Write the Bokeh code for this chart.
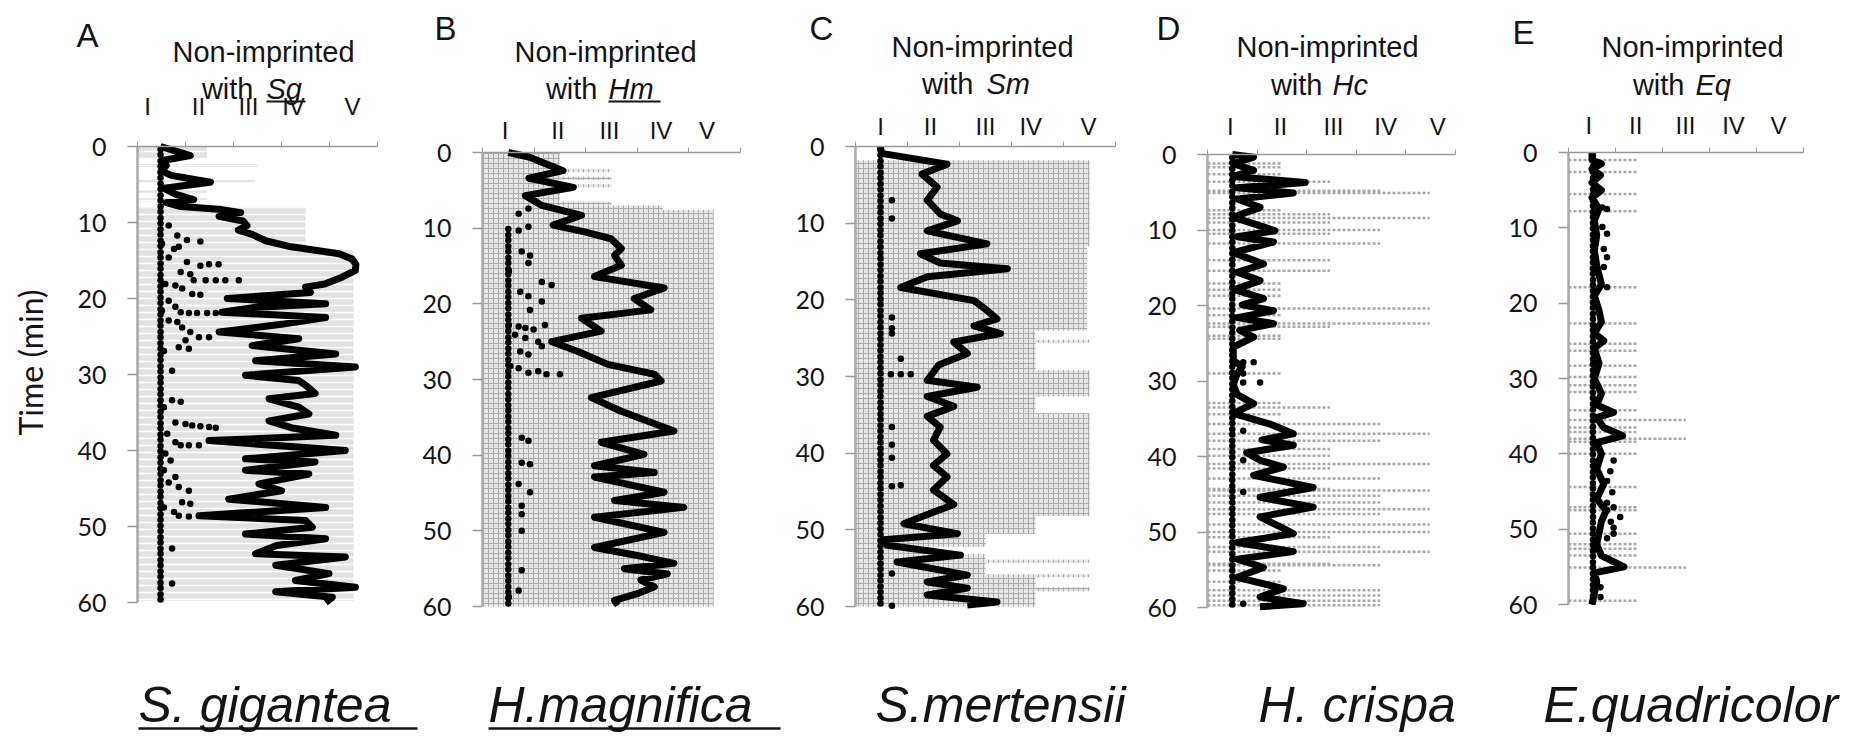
import math
from bokeh.plotting import figure
from bokeh.layouts import row
from bokeh.models import Range1d, FixedTicker
from bokeh.core.properties import value
from bokeh.embed import file_html
from bokeh.resources import INLINE

# ---------------- data ----------------
TIME_TICKS = [0, 10, 20, 30, 40, 50, 60]
LEVEL_TICKS = [0, 1, 2, 3, 4, 5]
ROMAN = ["I", "II", "III", "IV", "V"]
LETTERS = ["A", "B", "C", "D", "E"]
ABBR = ["Sg", "Hm", "Sm", "Hc", "Eq"]
SPECIES = ["S. gigantea", "H.magnifica", "S.mertensii", "H. crispa", "E.quadricolor"]
UNDERLINED = [True, True, False, False, False]

# thick line: behaviour level (x) against time in minutes (y)
A_T = [0, 0.6, 1.2, 1.8, 2.5, 3.2, 3.8, 4.7, 5.5, 6.3, 7.0, 7.4, 7.9, 8.3, 8.7, 9.2, 9.8, 10.4, 11.0, 11.6,
       12.4, 13.2, 14.1, 14.8, 15.5, 16.3, 17.2, 18.1, 18.5, 19.2, 20.0, 20.7, 21.2, 21.8, 22.5, 23.4, 24.4,
       25.3, 26.2, 27.3, 28.2, 29.0, 30.1, 30.8, 31.4, 32.5, 33.2, 34.3, 35.2, 36.1, 37.0, 38.0, 38.7, 40.0,
       41.1, 41.5, 42.6, 43.1, 44.4, 45.3, 46.4, 47.5, 48.6, 49.2, 50.1, 51.0, 51.6, 52.5, 53.6, 54.0, 55.1,
       56.2, 57.1, 58.0, 58.6, 59.3, 60.0]
A_V = [0.48, 0.8, 1.1, 0.55, 0.6, 0.5, 0.7, 1.52, 0.55, 0.8, 1.17, 0.6, 0.9, 1.76, 2.15, 1.7, 2.2, 2.28, 2.1, 2.4,
       2.67, 3.2, 4.2, 4.47, 4.55, 4.54, 4.26, 3.9, 3.5, 3.6, 1.87, 3.92, 2.4, 1.76, 3.92, 3.0, 1.7,
       3.36, 2.39, 4.13, 2.46, 4.54, 2.25, 3.36, 3.5, 3.7, 2.74, 3.36, 3.57, 2.74, 3.2, 4.13, 1.49, 4.33,
       2.25, 3.7, 2.25, 3.57, 2.53, 3.0, 1.9, 3.92, 1.28, 3.5, 3.64, 2.25, 3.92, 2.9, 2.46, 4.33, 2.88,
       3.99, 3.29, 4.54, 2.88, 4.06, 3.92]
B_T = [0, 0.6, 2.4, 3.4, 4.6, 5.7, 7.0, 8.3, 9.6, 10.5, 11.4, 12.7, 13.6, 14.9, 16.4, 17.9, 19.3, 20.8, 21.9, 23.6,
       25.0, 26.3, 28.0, 29.3, 30.2, 32.4, 34.2, 36.8, 38.3, 39.9, 41.4, 42.3, 42.9, 44.9, 46.0, 46.9, 48.2, 50.2,
       52.2, 53.4, 54.3, 55.0, 55.7, 56.5, 57.4, 58.3, 59.2, 59.8]
B_V = [0.5, 0.9, 1.56, 0.9, 1.76, 0.83, 1.15, 1.92, 1.37, 1.98, 2.49, 2.69, 2.56, 2.69, 2.17, 3.52, 2.94, 3.26, 1.92, 2.3,
       1.34, 1.85, 2.43, 3.33, 3.46, 2.11, 2.69, 3.71, 2.3, 3.13, 2.17, 3.33, 2.17, 3.52, 2.56, 3.9, 2.17, 3.52,
       2.17, 3.1, 3.71, 2.75, 3.58, 3.07, 3.33, 3.0, 2.56, 2.63]
C_T = [0, 0.9, 2.3, 3.6, 5.3, 7.0, 8.8, 9.7, 11.0, 12.7, 14.0, 15.2, 15.95, 17.0, 18.4, 20.1, 21.4, 22.5, 23.4, 24.4,
       25.5, 27.0, 28.5, 30.5, 31.4, 32.6, 33.9, 35.2, 36.6, 38.3, 40.1, 41.6, 43.1, 44.8, 46.7, 48.0, 49.2, 50.5,
       51.3, 52.0, 53.3, 54.2, 55.9, 56.8, 57.6, 58.5, 59.4, 59.8]
C_V = [0.48, 0.5, 1.76, 1.28, 1.57, 1.38, 1.63, 1.96, 1.38, 2.53, 1.25, 1.63, 2.92, 1.38, 0.87, 2.28, 2.53, 2.72, 2.28, 2.79,
       1.89, 2.15, 1.6, 1.38, 2.34, 1.38, 1.89, 1.38, 1.63, 1.5, 1.76, 1.5, 1.76, 1.5, 1.89, 1.38, 0.93, 1.96,
       0.54, 0.61, 2.02, 0.8, 2.15, 1.38, 2.15, 1.38, 2.72, 2.15]
D_T = [0, 0.35, 1.2, 2.1, 2.9, 3.7, 4.4, 5.1, 5.9, 7.0, 8.3, 10.1, 10.9, 11.6, 13.0, 14.5, 15.6, 16.7, 17.9, 19.1,
       19.9, 20.7, 21.6, 22.4, 23.3, 24.2, 25.5, 27.3, 28.1, 29.0, 30.5, 31.8, 33.0, 34.3, 35.7, 37.0, 37.8, 38.5,
       39.5, 40.5, 41.4, 42.5, 44.1, 45.4, 46.7, 48.0, 49.3, 50.2, 51.4, 52.6, 53.6, 54.7, 56.0, 57.5, 58.6, 59.5, 59.9]
D_V = [0.5, 0.93, 0.52, 0.93, 0.52, 1.97, 0.6, 1.73, 0.6, 1.06, 0.52, 1.36, 0.6, 1.33, 0.52, 1.13, 0.6, 1.06, 0.55, 1.13,
       0.7, 1.33, 0.6, 1.33, 0.65, 0.93, 0.52, 0.52, 0.7, 0.6, 0.52, 0.6, 0.93, 0.52, 1.26, 1.73, 1.1, 1.73,
       0.79, 1.06, 1.53, 0.93, 2.13, 1.06, 2.13, 1.06, 1.46, 1.73, 0.6, 1.73, 0.6, 1.13, 0.6, 1.53, 1.06, 1.93, 1.06]
E_T = [0, 1.0, 1.5, 2.2, 3.0, 4.0, 5.0, 6.0, 7.5, 9, 11, 13, 15, 17.5, 19, 21, 22.5, 24, 25, 26,
       28, 30, 32, 33.5, 34.5, 35.2, 36.5, 37.6, 38.5, 40, 42, 44, 46, 47.5, 49, 50.5, 52, 53.5, 55.0, 55.8,
       57, 58.5, 60]
E_V = [0.5, 0.5, 0.7, 0.5, 0.68, 0.5, 0.7, 0.5, 0.65, 0.55, 0.6, 0.55, 0.6, 0.7, 0.55, 0.65, 0.7, 0.55, 0.75, 0.55,
       0.65, 0.55, 0.7, 0.6, 0.96, 0.6, 0.75, 1.15, 0.6, 0.7, 0.6, 0.75, 0.6, 0.8, 0.7, 0.65, 0.6, 0.7, 1.18, 0.55,
       0.6, 0.55, 0.5]

# scattered dots
A_DOT_V = [0.65, 0.83, 1.03, 1.31, 0.51, 0.76, 0.86, 0.65, 1.03, 1.31, 1.49, 1.69, 0.9, 1.1, 1.17, 1.42, 1.63, 1.83,
           2.11, 0.58, 0.79, 0.93, 1.14, 1.31, 0.65, 0.79, 0.9, 1.07, 1.24, 1.45, 1.63, 0.51, 0.65, 0.83, 0.93, 1.1,
           1.28, 1.49, 1.0, 0.86, 1.07, 0.55, 0.72, 0.72, 0.9, 0.55, 0.79, 1.0, 1.14, 1.31, 1.49, 1.63, 0.62, 0.79,
           0.9, 1.07, 1.28, 0.58, 0.69, 0.55, 0.79, 0.65, 0.86, 1.07, 0.93, 1.1, 0.55, 0.76, 0.86, 1.07, 0.72, 0.72]
A_DOT_T = [10.4, 11.7, 12.3, 12.5, 12.8, 13.5, 13.2, 14.6, 15.2, 15.7, 15.5, 15.5, 16.5, 16.8, 17.6, 17.6, 17.6, 17.6,
           17.6, 18.1, 18.3, 18.7, 19.4, 19.5, 20.3, 21.1, 21.8, 21.9, 21.9, 21.9, 21.9, 21.6, 22.9, 23.1, 23.8, 24.4,
           25.1, 25.1, 25.5, 26.4, 26.6, 26.9, 29.5, 33.4, 33.6, 34.3, 36.3, 36.5, 36.7, 36.8, 36.9, 37.0, 37.8, 38.9,
           39.3, 39.3, 39.3, 40.4, 41.3, 42.6, 43.5, 44.2, 44.8, 45.3, 46.8, 47.0, 47.5, 48.1, 48.6, 48.7, 52.9, 57.5]
B_DOT_V = [0.89, 0.70, 0.89, 0.70, 0.76, 0.92, 0.89, 0.51, 1.15, 1.34, 0.73, 0.89, 1.15, 0.92, 0.51, 0.70, 0.83, 0.99,
           1.21, 0.63, 0.83, 1.08, 1.15, 0.73, 0.89, 0.54, 0.70, 0.89, 1.08, 1.24, 1.5, 0.76, 0.89, 0.76, 0.92, 0.70,
           0.92, 0.76, 0.76, 0.76, 0.76, 0.70, 0.51]
B_DOT_T = [7.4, 8.1, 9.8, 10.3, 13.1, 13.6, 14.6, 15.7, 17.1, 17.5, 18.4, 19.0, 19.7, 20.8, 22.8, 23.0, 23.2, 23.4,
           22.8, 24.1, 24.5, 25.0, 25.6, 26.3, 26.7, 28.2, 28.5, 29.1, 28.9, 29.3, 29.3, 37.7, 38.1, 41.0, 41.2, 43.8,
           44.9, 46.7, 47.8, 50.0, 55.2, 57.9, 58.7]
C_DOT_V = [0.7, 0.7, 0.7, 0.7, 0.7, 0.87, 0.68, 0.87, 1.06, 0.7, 0.7, 0.7, 0.7, 0.87, 0.7, 0.7]
C_DOT_T = [7.0, 9.4, 22.3, 23.7, 24.4, 27.7, 29.7, 29.7, 29.7, 36.6, 38.9, 40.6, 44.3, 44.2, 55.7, 59.9]
D_DOT_V = [0.72, 0.93, 0.72, 0.72, 1.06, 0.72, 0.72, 0.72, 0.72]
D_DOT_T = [27.5, 27.5, 29.0, 30.2, 30.2, 36.6, 40.5, 44.7, 59.5]
E_DOT_V = [0.72, 0.82, 0.72, 0.82, 0.75, 0.82, 0.75, 0.82, 0.96, 0.89, 0.82, 0.93, 0.82, 0.96, 0.82, 1.1, 0.9, 0.96,
           0.96, 0.82, 0.6, 0.68, 0.68]
E_DOT_T = [7.3, 7.5, 9.9, 10.8, 12.8, 13.9, 15.2, 17.9, 40.9, 42.3, 43.6, 45.1, 46.5, 47.1, 47.5, 48.4, 49.0, 49.8,
           50.6, 51.2, 56.8, 57.7, 59.0]

# column of dots at level I (minutes)
COL_T = [0.4, 1.1, 1.9, 2.6, 3.4, 4.1, 4.9, 5.6, 6.4, 7.1, 7.9, 8.6, 9.4, 10.1, 10.9, 11.6, 12.4, 13.1, 13.9, 14.6,
         15.4, 16.1, 16.9, 17.6, 18.4, 19.1, 19.9, 20.6, 21.4, 22.1, 22.9, 23.6, 24.4, 25.1, 25.9, 26.6, 27.4, 28.1,
         28.9, 29.6, 30.4, 31.1, 31.9, 32.6, 33.4, 34.1, 34.9, 35.6, 36.4, 37.1, 37.9, 38.6, 39.4, 40.1, 40.9, 41.6,
         42.4, 43.1, 43.9, 44.6, 45.4, 46.1, 46.9, 47.6, 48.4, 49.1, 49.9, 50.6, 51.4, 52.1, 52.9, 53.6, 54.4, 55.1,
         55.9, 56.6, 57.4, 58.1, 58.9, 59.6]
COL_V = [0.48, 0.5, 0.48, 0.5, 0.52]
COL_FROM = [0.0, 9.5, 0.0, 0.0, 0.0]

# grey background spans (start min, end min, level reached)
A_SPAN_T0 = [0.0, 2.3, 4.3, 5.8, 6.8, 8.0, 13.6]
A_SPAN_T1 = [1.6, 2.7, 4.7, 6.2, 7.2, 13.6, 59.8]
A_SPAN_R = [1.45, 2.5, 2.45, 1.45, 1.45, 3.5, 4.5]
B_SPAN_T0 = [0.0, 2.2, 3.2, 4.2, 6.5, 7.0, 7.6]
B_SPAN_T1 = [6.5, 2.6, 3.6, 4.6, 7.0, 7.6, 60.0]
B_SPAN_R = [1.5, 2.5, 2.5, 2.5, 2.5, 3.5, 4.48]
C_SPAN_T0 = [1.8, 13.0, 24.0, 25.2, 27.9, 29.2, 32.6, 34.8, 48.2, 50.5, 52.2, 53.2, 53.9, 54.3, 55.8, 56.2, 57.5, 58.0]
C_SPAN_T1 = [13.0, 24.0, 27.9, 25.6, 29.2, 32.6, 34.8, 48.2, 50.5, 52.2, 53.2, 54.0, 54.3, 55.9, 56.2, 57.5, 58.0, 60.0]
C_SPAN_R = [4.5, 4.45, 3.46, 4.5, 3.46, 4.5, 3.46, 4.5, 3.46, 2.5, 1.5, 2.5, 4.5, 2.5, 4.5, 3.46, 4.5, 3.46]
# dotted grey rows (minute, level reached)
D_ROW_T = [1.2, 1.7, 2.6, 3.6, 4.8, 5.1, 7.4, 7.9, 8.4, 9.0, 10.0, 10.5, 11.8, 14.0, 15.4, 17.1, 17.9, 18.7, 20.4, 21.3,
           22.4, 22.8, 24.0, 24.4, 29.0, 32.9, 33.5, 34.4, 35.7, 37.0, 37.9, 39.0, 39.9, 41.0, 41.6, 42.9, 44.3, 44.5,
           45.2, 46.1, 47.0, 47.6, 49.0, 50.0, 50.7, 52.0, 52.6, 54.2, 54.4, 55.1, 56.6, 57.7, 58.4, 59.1, 59.7]
D_ROW_R = [1.5, 1.5, 1.5, 2.47, 3.48, 4.48, 1.5, 2.47, 4.48, 2.47, 3.48, 2.47, 3.48, 2.47, 2.47, 1.5, 1.5, 1.5, 4.48, 1.5,
           4.48, 2.47, 1.5, 1.5, 1.5, 1.5, 2.47, 1.5, 3.48, 4.48, 3.48, 2.47, 2.47, 4.48, 2.47, 3.48, 2.47, 4.48,
           3.48, 3.48, 4.48, 3.48, 4.48, 4.48, 2.47, 3.48, 4.48, 2.47, 3.48, 1.5, 1.5, 3.48, 3.48, 3.48, 3.48]
E_ROW_T = [1.0, 2.6, 5.5, 7.8, 17.9, 22.7, 25.4, 26.3, 28.3, 29.8, 30.9, 31.8, 34.2, 35.5, 36.5, 37.1, 38.0, 38.4,
           40.0, 44.4, 47.1, 47.5, 50.6, 52.0, 52.6, 53.5, 55.1, 59.5]
E_ROW_R = [1.45, 1.45, 1.45, 1.45, 1.45, 1.45, 1.45, 1.45, 1.45, 1.45, 1.45, 1.45, 1.45, 2.5, 1.45, 1.45, 2.5, 1.45,
           1.45, 1.45, 1.45, 1.45, 1.45, 1.45, 1.45, 1.45, 2.5, 1.45]

# roman-numeral header positions (level units)
ROMAN_POS = [
    [0.21, 1.27, 2.31, 3.25, 4.48],
    [0.44, 1.46, 2.46, 3.46, 4.35],
    [0.48, 1.44, 2.5, 3.37, 4.48],
    [0.46, 1.47, 2.54, 3.59, 4.64],
    [0.43, 1.43, 2.49, 3.51, 4.47],
]

# ---------------- layout (pixels) ----------------
H = 736
GEOM = [
    dict(left=0, right=420, px0=137, unit=48.0, y0=146, y60=602, letter=(76, 45), t1=(263, 60), w=(253, 97), ab=266,
         abend=305, rom=113, sp=138, spend=417),
    dict(left=420, right=790, px0=482, unit=51.6, y0=152, y60=606, letter=(434, 38), t1=(605, 60), w=(597, 97), ab=608,
         abend=660, rom=137, sp=488, spend=780),
    dict(left=790, right=1140, px0=855, unit=52.0, y0=146, y60=606, letter=(809, 38), t1=(982, 55), w=(973, 92), ab=986,
         abend=1035, rom=133, sp=875, spend=1140),
    dict(left=1140, right=1500, px0=1207, unit=49.6, y0=154, y60=607, letter=(1156, 38), t1=(1327, 55), w=(1322, 93),
         ab=1332, abend=1373, rom=133, sp=1258, spend=1463),
    dict(left=1500, right=1866, px0=1568, unit=47.0, y0=152, y60=604, letter=(1512, 42), t1=(1692, 55), w=(1684, 93),
         ab=1695, abend=1737, rom=132, sp=1543, spend=1843),
]

LINES = [(A_T, A_V), (B_T, B_V), (C_T, C_V), (D_T, D_V), (E_T, E_V)]
DOTS = [(A_DOT_T, A_DOT_V), (B_DOT_T, B_DOT_V), (C_DOT_T, C_DOT_V), (D_DOT_T, D_DOT_V), (E_DOT_T, E_DOT_V)]
SPANS = [(A_SPAN_T0, A_SPAN_T1, A_SPAN_R), (B_SPAN_T0, B_SPAN_T1, B_SPAN_R), (C_SPAN_T0, C_SPAN_T1, C_SPAN_R), None, None]
ROWS = [None, None, None, (D_ROW_T, D_ROW_R), (E_ROW_T, E_ROW_R)]

SANS = "Liberation Sans"
NUMF = "Lato"
INK = "#141414"
BASE_SHIFT = 0.3   # rendered alphabetic baseline sits ~0.3 em lower than requested


def panel(i):
    g = GEOM[i]
    upm = (g["y60"] - g["y0"]) / 60.0
    left, right = g["left"], g["right"]

    def X(px):
        return (px - g["px0"]) / g["unit"]

    def Y(py):
        return (py - g["y0"]) / upm

    def TY(py, size):
        return Y(py - BASE_SHIFT * size)

    p = figure(width=right - left, height=H,
               x_range=Range1d(X(left), X(right)), y_range=Range1d(Y(H), Y(0)),
               x_axis_location="above", output_backend="svg", toolbar_location=None,
               min_border=0, outline_line_color=None)
    p.grid.visible = False
    p.background_fill_color = "white"
    p.border_fill_color = "white"

    # grey background
    if SPANS[i] is not None:
        t0, t1, r = SPANS[i]
        if i == 0:
            p.quad(left=[0] * len(r), right=r, top=t0, bottom=t1, fill_color="#e2e2e2", line_color=None,
                   hatch_pattern="horizontal_line", hatch_color="white", hatch_scale=7, hatch_weight=1.5)
        else:
            p.quad(left=[0] * len(r), right=r, top=t0, bottom=t1, fill_color="#e6e6e6", line_color=None,
                   hatch_pattern="+", hatch_color="#aaaaaa", hatch_scale=5, hatch_weight=1)
    if ROWS[i] is not None:
        rt, rr = ROWS[i]
        p.segment(x0=[0] * len(rr), y0=rt, x1=rr, y1=rt, line_color="#a8a8a8", line_width=2.5, line_dash="3 2")

    # column of dots at level I
    ct = [t for t in COL_T if t >= COL_FROM[i]]
    p.scatter(x=[COL_V[i]] * len(ct), y=ct, size=6.5, fill_color="black", line_color=None)

    # thick trace
    lt, lv = LINES[i]
    p.line(x=lv, y=lt, line_width=7, line_color="black", line_join="round")

    # scattered dots
    dt, dv = DOTS[i]
    p.scatter(x=dv, y=dt, size=6.5, fill_color="black", line_color=None)

    # axes
    yax = p.yaxis[0]
    yax.fixed_location = 0
    yax.bounds = (0, 60)
    yax.ticker = FixedTicker(ticks=TIME_TICKS)
    yax.major_tick_out = 10
    yax.major_tick_in = 0
    yax.minor_tick_out = 0
    yax.minor_tick_in = 0
    yax.axis_line_color = "#a9a9a9"
    yax.axis_line_width = 2.5
    yax.major_tick_line_color = "#999999"
    yax.major_tick_line_width = 1.5
    yax.major_label_text_font = NUMF
    yax.major_label_text_font_size = "25px"
    yax.major_label_text_color = INK
    yax.major_label_standoff = 21

    xax = p.xaxis[0]
    xax.fixed_location = 0
    xax.bounds = (0, 5)
    xax.ticker = FixedTicker(ticks=LEVEL_TICKS)
    xax.major_tick_out = 5
    xax.major_tick_in = 0
    xax.minor_tick_out = 0
    xax.minor_tick_in = 0
    xax.axis_line_color = "#999999"
    xax.axis_line_width = 1.5
    xax.major_tick_line_color = "#999999"
    xax.major_label_overrides = {k: "" for k in LEVEL_TICKS}

    # texts
    p.text(x=[X(g["letter"][0])], y=[TY(g["letter"][1], 33)], text=[LETTERS[i]], text_font=value(SANS),
           text_font_size="33px", text_align="left", text_baseline="alphabetic", text_color=INK)
    p.text(x=[X(g["t1"][0])], y=[TY(g["t1"][1], 29)], text=["Non-imprinted"], text_font=value(SANS),
           text_font_size="29px", text_align="center", text_baseline="alphabetic", text_color=INK)
    p.text(x=[X(g["w"][0])], y=[TY(g["w"][1], 29)], text=["with"], text_font=value(SANS),
           text_font_size="29px", text_align="right", text_baseline="alphabetic", text_color=INK)
    p.text(x=[X(g["ab"])], y=[TY(g["w"][1], 29)], text=[ABBR[i]], text_font=value(SANS), text_font_style="italic",
           text_font_size="29px", text_align="left", text_baseline="alphabetic", text_color=INK)
    p.text(x=ROMAN_POS[i], y=[TY(g["rom"], 24)] * 5, text=ROMAN, text_font=value(SANS),
           text_font_size="24px", text_align="center", text_baseline="alphabetic", text_color=INK)
    p.text(x=[X(g["sp"])], y=[TY(719, 50)], text=[SPECIES[i]], text_font=value(SANS), text_font_style="italic",
           text_font_size="50px", text_align="left", text_baseline="alphabetic", text_color=INK)
    if UNDERLINED[i]:
        p.segment(x0=[X(g["ab"])], y0=[Y(g["w"][1] + 4)], x1=[X(g["abend"])], y1=[Y(g["w"][1] + 4)],
                  line_color=INK, line_width=2)
        p.segment(x0=[X(g["sp"])], y0=[Y(728)], x1=[X(g["spend"])], y1=[Y(728)], line_color=INK, line_width=2.5)
    if i == 0:
        p.text(x=[X(30)], y=[Y(362)], text=["Time (min)"], angle=math.pi / 2, text_font=value(NUMF),
               text_font_size="32px", text_align="center", text_baseline="middle", text_color=INK)
    return p


layout = row(*[panel(i) for i in range(5)], spacing=0)
open("out.html", "w").write(file_html(layout, INLINE))
